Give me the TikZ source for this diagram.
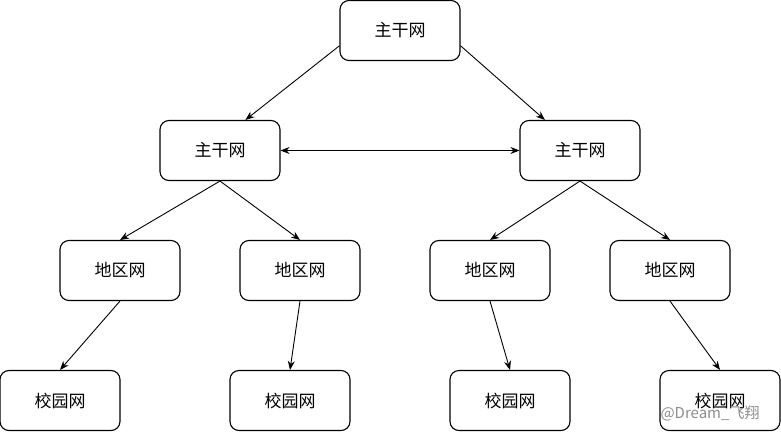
\documentclass[tikz,border=0pt]{standalone}
\usepackage{fontspec}
\newfontfamily\cjk{Noto Sans CJK SC}
\usetikzlibrary{arrows.meta,calc}
\begin{document}
\begin{tikzpicture}[x=1pt,y=-1pt,
  box/.style={draw,line width=1.1pt,rounded corners=9pt,minimum width=120pt,minimum height=60pt,inner sep=0pt,font=\cjk\fontsize{17}{19}\selectfont},
  arr/.style={line width=0.9pt,-{Stealth[length=9pt,width=7pt]}}]
\useasboundingbox (0,0) rectangle (781,431);
\node[box] (t) at (400,30.5) {主干网};
\node[box] (l) at (220,150.5) {主干网};
\node[box] (r) at (580,150.5) {主干网};
\node[box] (a1) at (120,270.5) {地区网};
\node[box] (a2) at (300,270.5) {地区网};
\node[box] (a3) at (490,270.5) {地区网};
\node[box] (a4) at (670,270.5) {地区网};
\node[box] (c1) at (60,400.5) {校园网};
\node[box] (c2) at (290,400.5) {校园网};
\node[box] (c3) at (510,400.5) {校园网};
\node[box] (c4) at (720,400.5) {校园网};
\draw[arr] ($(t.north west)!0.75!(t.south west)$) -- ($(l.north west)!0.71!(l.north east)$);
\draw[arr] ($(t.north east)!0.75!(t.south east)$) -- ($(r.north west)!0.21!(r.north east)$);
\draw[arr,{Stealth[length=9pt,width=7pt]}-{Stealth[length=9pt,width=7pt]}] (l.east) -- (r.west);
\draw[arr] (l.south) -- (a1.north);
\draw[arr] (l.south) -- (a2.north);
\draw[arr] (r.south) -- (a3.north);
\draw[arr] (r.south) -- (a4.north);
\draw[arr] (a1.south) -- (c1.north);
\draw[arr] (a2.south) -- (c2.north);
\draw[arr] (a3.south) -- (c3.north);
\draw[arr] (a4.south) -- (c4.north);
\node[font=\cjk\fontsize{15}{17}\selectfont,text=black!45,inner sep=0pt] (wm) at (710,413) {@Dream\_飞翔};
\end{tikzpicture}
\end{document}
